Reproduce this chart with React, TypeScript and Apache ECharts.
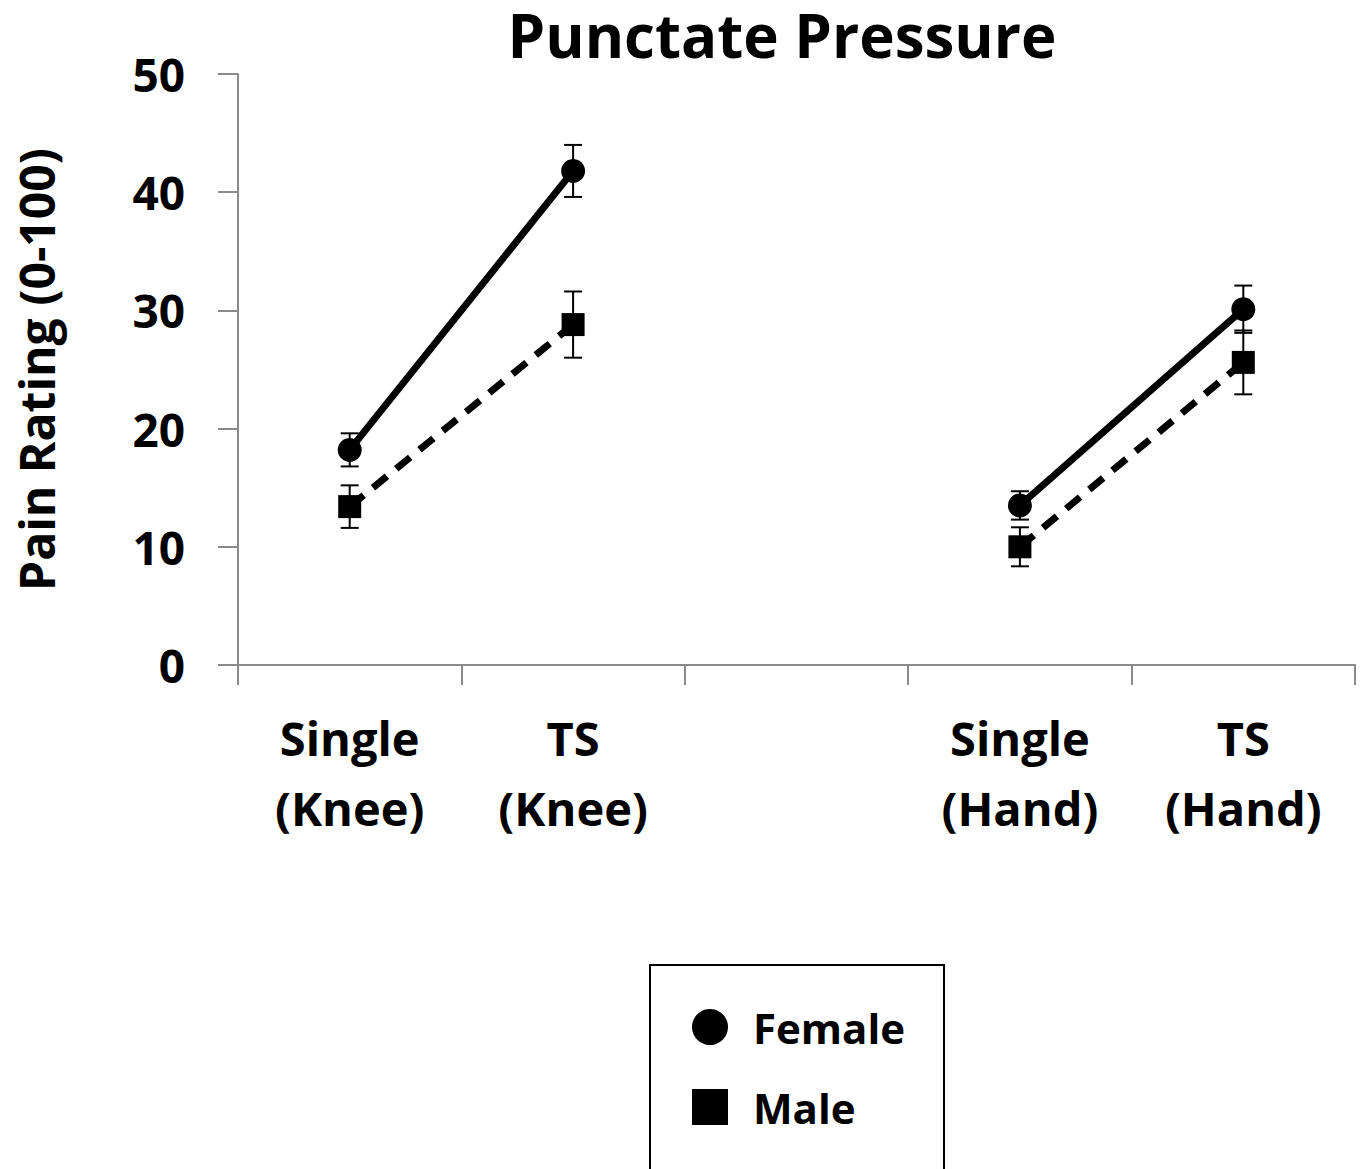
import React, { useEffect, useRef } from "react";
import * as echarts from "echarts";

const categories = ["Single\n(Knee)", "TS\n(Knee)", "", "Single\n(Hand)", "TS\n(Hand)"];
const femaleMeans = [18.2, 41.8, null, 13.5, 30.1];
const femaleErr = [1.4, 2.2, null, 1.2, 2.0];
const maleMeans = [13.4, 28.8, null, 10.0, 25.6];
const maleErr = [1.8, 2.8, null, 1.65, 2.7];
const yMin = 0;
const yMax = 50;
const yStep = 10;

const FONT = "Open Sans";
const AXIS_GRAY = "#8a8a8a";

function errData(means: (number | null)[], errs: (number | null)[]) {
  const out: number[][] = [];
  means.forEach((m, i) => {
    const e = errs[i];
    if (m != null && e != null) out.push([i, m - e, m + e]);
  });
  return out;
}

function errorSeries(name: string, data: number[][]) {
  return {
    type: "custom",
    name: name + " SE",
    data,
    z: 1,
    silent: true,
    renderItem: (params: any, api: any) => {
      const x = api.value(0);
      const lo = api.coord([x, api.value(1)]);
      const hi = api.coord([x, api.value(2)]);
      const hw = 9;
      const style = { stroke: "#000", lineWidth: 2 };
      return {
        type: "group",
        children: [
          { type: "line", shape: { x1: lo[0], y1: lo[1], x2: hi[0], y2: hi[1] }, style },
          { type: "line", shape: { x1: lo[0] - hw, y1: lo[1], x2: lo[0] + hw, y2: lo[1] }, style },
          { type: "line", shape: { x1: hi[0] - hw, y1: hi[1], x2: hi[0] + hw, y2: hi[1] }, style },
        ],
      };
    },
  };
}

export default function App() {
  const ref = useRef<HTMLDivElement>(null);
  useEffect(() => {
    if (!ref.current) return;
    const chart = echarts.init(ref.current, undefined, { renderer: "svg" });
    chart.setOption({
      animation: false,
      backgroundColor: "#fff",
      title: {
        text: "Punctate Pressure",
        left: 782,
        top: 4,
        padding: 0,
        textAlign: "center",
        textStyle: {
          fontFamily: FONT,
          fontWeight: "bold",
          fontSize: 60,
          lineHeight: 62,
          color: "#000",
        },
      },
      grid: {
        left: 238,
        right: 6,
        top: 74,
        bottom: 504,
        containLabel: false,
        outerBoundsMode: "none",
      },
      legend: {
        left: 692,
        top: 1006,
        orient: "vertical",
        padding: 0,
        itemWidth: 36,
        itemHeight: 36,
        itemGap: 38,
        textStyle: {
          fontFamily: FONT,
          fontWeight: "bold",
          fontSize: 42,
          color: "#000",
          padding: [0, 0, 0, 20],
        },
        data: [
          { name: "Female", icon: "circle" },
          { name: "Male", icon: "rect" },
        ],
      },
      graphic: [
        {
          type: "rect",
          shape: { x: 650, y: 965, width: 294, height: 260 },
          style: { fill: "none", stroke: "#000", lineWidth: 2 },
          silent: true,
        },
      ],
      xAxis: {
        type: "category",
        data: categories,
        boundaryGap: true,
        axisLine: { show: true, lineStyle: { color: AXIS_GRAY, width: 2 } },
        axisTick: { show: true, interval: 0, length: 20, lineStyle: { color: AXIS_GRAY, width: 2 } },
        axisLabel: {
          interval: 0,
          margin: 38,
          fontFamily: FONT,
          fontWeight: "bold",
          fontSize: 47,
          lineHeight: 70,
          color: "#000",
        },
      },
      yAxis: {
        type: "value",
        min: yMin,
        max: yMax,
        interval: yStep,
        name: "Pain Rating (0-100)",
        nameLocation: "middle",
        nameGap: 178,
        nameTextStyle: { fontFamily: FONT, fontWeight: "bold", fontSize: 48, color: "#000" },
        splitLine: { show: false },
        axisLine: { show: true, lineStyle: { color: AXIS_GRAY, width: 2 } },
        axisTick: { show: true, length: 20, lineStyle: { color: AXIS_GRAY, width: 2 } },
        axisLabel: {
          margin: 53,
          fontFamily: FONT,
          fontWeight: "bold",
          fontSize: 46,
          color: "#000",
        },
      },
      series: [
        errorSeries("Female", errData(femaleMeans, femaleErr)),
        errorSeries("Male", errData(maleMeans, maleErr)),
        {
          type: "line",
          name: "Female",
          data: femaleMeans,
          connectNulls: false,
          symbol: "circle",
          symbolSize: 24,
          z: 3,
          itemStyle: { color: "#000" },
          lineStyle: { color: "#000", width: 7 },
        },
        {
          type: "line",
          name: "Male",
          data: maleMeans,
          connectNulls: false,
          symbol: "rect",
          symbolSize: 23,
          z: 3,
          itemStyle: { color: "#000" },
          lineStyle: { color: "#000", width: 7, type: [18, 12] },
        },
      ],
    });
    return () => chart.dispose();
  }, []);
  return (
    <div
      ref={ref}
      style={{ position: "absolute", left: 0, top: 0, width: 1361, height: 1169 }}
    />
  );
}
